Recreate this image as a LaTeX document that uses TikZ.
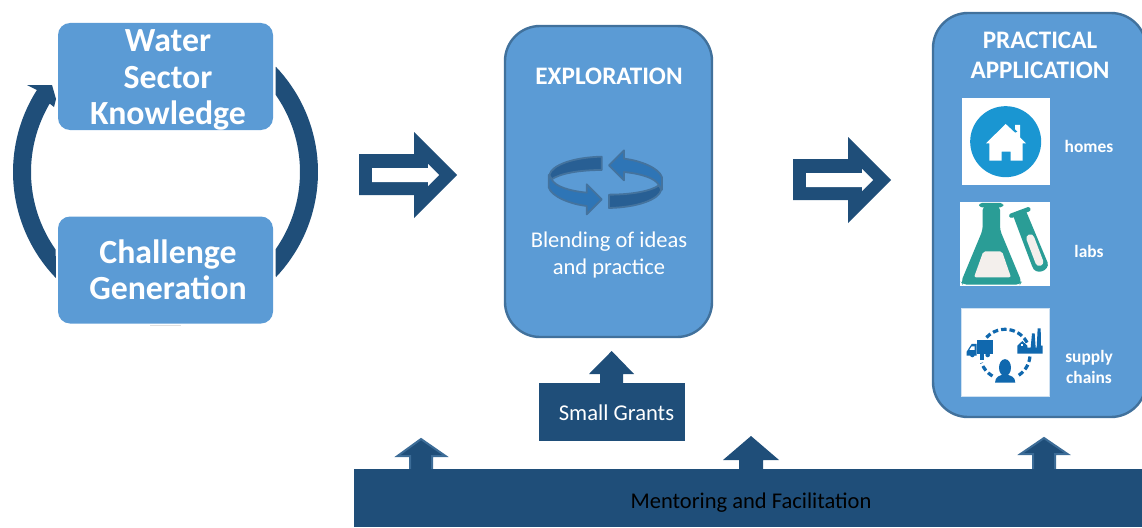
\documentclass[tikz,border=0pt]{standalone}
\usepackage{fontspec}
\setmainfont{Carlito}
\definecolor{boxblue}{HTML}{5B9BD5}
\definecolor{navy}{HTML}{1F4E79}
\definecolor{edgeblue}{HTML}{41719C}
\definecolor{bandlight}{HTML}{2E75B6}
\definecolor{banddark}{HTML}{285F94}
\definecolor{bandedge}{HTML}{44739E}
\definecolor{homeblue}{HTML}{1A96D2}
\definecolor{flask}{HTML}{2A9D96}
\definecolor{liquid}{HTML}{F3EFEC}
\definecolor{chainblue}{HTML}{1068AE}
\newcommand{\loopband}{%
  \fill[banddark,draw=bandedge,line width=1.8pt,line join=round] (245,80) .. controls (160,82) and (95,105) .. (88,135) -- (95,148) .. controls (120,130) and (180,120) .. (245,120) -- cycle;
  \fill[bandlight,draw=bandedge,line width=1.8pt,line join=round] (86,135) -- (86,172) .. controls (95,200) and (150,222) .. (200,228) -- (200,253) -- (245,208) -- (200,163) -- (200,188) .. controls (150,183) and (105,170) .. (95,148) -- cycle;
}
\tikzset{
  x=1pt,y=-1pt,
  softbox/.style={fill=boxblue,rounded corners=12pt,minimum width=215pt,minimum height=107pt,inner sep=0pt},
  tallbox/.style={fill=boxblue,draw=edgeblue,line width=2.4pt,rounded corners=35pt,inner sep=0pt},
  boxhead/.style={text=white,font=\fontsize{33.8}{36.5}\selectfont\bfseries,align=center,inner sep=0pt},
  title/.style={text=white,font=\fontsize{25.2}{29.5}\selectfont\bfseries,align=center,inner sep=0pt},
  body/.style={text=white,font=\fontsize{22.5}{27}\selectfont,align=center,inner sep=0pt},
  iconlabel/.style={text=white,font=\fontsize{17.4}{21}\selectfont\bfseries,align=center,inner sep=0pt},
  band/.style={fill=navy,inner sep=0pt},
  icontile/.style={fill=white,inner sep=0pt},
  block/.style={fill=navy},
  blockedge/.style={fill=navy,draw=edgeblue!85!navy,line width=2pt,line join=miter}
}
\begin{document}
\begin{tikzpicture}
\useasboundingbox (0,0) rectangle (1142,527);
% ring segments
\fill[navy] plot[domain=-43.7:43.7,samples=40] ({165.5+152.5*cos(\x)},{172+152.5*sin(\x)})
  -- plot[domain=35:-35,samples=40] ({165.5+134.5*cos(\x)},{172+134.5*sin(\x)}) -- cycle;
\fill[navy] plot[domain=136:212.5,samples=50] ({165.5+152.5*cos(\x)},{172+152.5*sin(\x)})
  -- (27,85) -- (52,85) -- (56,99) -- (54,107) -- (49,103)
  -- plot[domain=210.6:144.7,samples=50] ({165.5+134.5*cos(\x)},{172+134.5*sin(\x)}) -- cycle;
\draw[gray!25,line width=0.8pt] (150,325.3) -- (181,325.3);
% left boxes
\node[softbox] (water) at (165.5,76.5) {};
\node[boxhead] (watertext) at (168,80) {Water\\Sector\\Knowledge};
\node[softbox] (challenge) at (165.5,270) {};
\node[boxhead] (challengetext) at (168,270) {Challenge\\Generation};
% big arrows
\fill[navy] (359,154) -- (414,154) -- (414,132) -- (457,175) -- (414,218) -- (414,195) -- (359,195) -- cycle;
\fill[white] (372,168) -- (428,168) -- (428,164) -- (439,175) -- (428,186) -- (428,182) -- (372,182) -- cycle;
\fill[navy] (793,159) -- (848,159) -- (848,137) -- (891,180) -- (848,223) -- (848,200) -- (793,200) -- cycle;
\fill[white] (806,173) -- (862,173) -- (862,169) -- (873,180) -- (862,191) -- (862,187) -- (806,187) -- cycle;
% exploration
\node[tallbox,minimum width=207pt,minimum height=311pt] (explore) at (608.5,181.5) {};
\node[title] (exploretitle) at (609,76) {EXPLORATION};
\begin{scope}[shift={(520,130)},x=0.3333pt,y=-0.3333pt]
  \loopband
  \begin{scope}[rotate around={180:(256,157)}]
    \loopband
  \end{scope}
\end{scope}
\node[body] (blend) at (609,254.5) {Blending of ideas\\and practice};
% practical application
\node[tallbox,minimum width=213pt,minimum height=404pt] (practical) at (1039.5,215) {};
\node[title] (practicaltitle) at (1040,55.5) {PRACTICAL\\APPLICATION};
% homes tile
\node[icontile,minimum width=88pt,minimum height=87pt] (hometile) at (1006,141.5) {};
\begin{scope}[shift={(940,80)},x=0.3333pt,y=-0.3333pt]
  \fill[homeblue] (197,185) circle[radius=35.5pt];
  \fill[white] (197,132) -- (225,158) -- (225,135) -- (240,135) -- (240,172) -- (258,190) -- (248,190) -- (248,242) -- (212,242) -- (212,215) -- (185,215) -- (185,242) -- (148,242) -- (148,190) -- (138,190) -- cycle;
  \fill[homeblue] (225,148) -- (232,155) -- (225,158) -- cycle;
\end{scope}
\node[iconlabel] (homes) at (1089,146) {homes};
% labs tile
\node[icontile,minimum width=90pt,minimum height=84pt] (labtile) at (1005,244) {};
\begin{scope}[shift={(940,80)},x=0.3333pt,y=-0.3333pt]
  \fill[flask,rounded corners=3pt] (117,369) rectangle (190,382);
  \fill[flask,rounded corners=4pt] (128,378) -- (180,378) -- (180,450) -- (245,606) -- (240,614) -- (68,614) -- (63,606) -- (128,450) -- cycle;
  \fill[liquid,rounded corners=2pt] (130,514) -- (186,514) -- (213,592) -- (102,592) -- cycle;
  \fill[flask] (220,409) -- (258,393) -- (323,548) .. controls (330,572) and (285,590) .. (276,558) -- cycle;
  \draw[flask,line width=4.5pt,line cap=round] (214,407) -- (265,388);
  \draw[liquid,line width=8pt,line cap=round] (271,475) -- (298,546);
\end{scope}
\node[iconlabel] (labs) at (1089,251) {labs};
% supply chains tile
\node[icontile,draw=white!70!boxblue,line width=0.8pt,minimum width=88pt,minimum height=88pt] (chaintile) at (1005,352) {};
\begin{scope}[shift={(940,295)},x=0.3333pt,y=-0.3333pt]
  \draw[chainblue,line width=3.2pt,dash pattern=on 5.5pt off 3pt]
    plot[domain=222:335,samples=40] ({195+75*cos(\x)},{178+75*sin(\x)});
  \draw[chainblue,line width=3.2pt,dash pattern=on 5.5pt off 3pt]
    plot[domain=5:60,samples=20] ({195+75*cos(\x)},{178+75*sin(\x)});
  \draw[chainblue,line width=3.2pt,dash pattern=on 5.5pt off 3pt]
    plot[domain=120:160,samples=20] ({195+75*cos(\x)},{178+75*sin(\x)});
  % truck
  \fill[chainblue] (112,135) rectangle (158,178);
  \fill[chainblue] (80,182) -- (80,170) -- (95,147) -- (110,147) -- (110,182) -- cycle;
  \fill[chainblue] (120,178) rectangle (132,195);
  \fill[chainblue] (97,180) circle[radius=2.3pt];
  \fill[chainblue] (143,180) circle[radius=2.3pt];
  \fill[white] (88,165) -- (95,154) -- (104,154) -- (104,165) -- cycle;
  % factory
  \fill[chainblue] (232,176) -- (232,152) -- (247,138) -- (262,152) -- (262,158) -- (272,158) -- (276,115) -- (284,115) -- (287,158) -- (290,158) -- (293,100) -- (302,100) -- (303,152) -- (308,152) -- (308,176) -- cycle;
  \fill[white] (244,147) rectangle (250,153);
  % person
  \fill[chainblue] (195,218) ellipse[x radius=6pt,y radius=8.5pt];
  \fill[chainblue] (165,263) .. controls (165,245) and (180,240) .. (195,238) .. controls (210,240) and (226,245) .. (226,263) -- cycle;
\end{scope}
\node[iconlabel] (supply) at (1089,367) {supply\\chains};
% small grants and mentoring
\fill[block] (589,374) -- (611.7,351) -- (634,374) -- (623,374) -- (623,385) -- (600,385) -- (600,374) -- cycle;
\node[band,minimum width=146pt,minimum height=58.3pt] (grants) at (611.6,411.9) {};
\node[text=white,font=\fontsize{22.6}{26}\selectfont,inner sep=0pt] (grantstext) at (616.5,413) {Small Grants};
\path[blockedge] (397.5,456) -- (421,439) -- (445.5,456) -- (432,456) -- (432,470) -- (410,470) -- (410,456) -- cycle;
\fill[block] (723,460) -- (751,436) -- (779,460) -- (763,460) -- (763,470) -- (739,470) -- (739,460) -- cycle;
\path[blockedge] (1020.5,454) -- (1044,438) -- (1067.5,454) -- (1055,454) -- (1055,470) -- (1033,470) -- (1033,454) -- cycle;
\node[band,minimum width=788pt,minimum height=58pt] (mentor) at (748,498) {};
\node[text=black,font=\fontsize{22.5}{26}\selectfont,inner sep=0pt] (mentortext) at (751,503) {Mentoring and Facilitation};
\end{tikzpicture}
\end{document}
